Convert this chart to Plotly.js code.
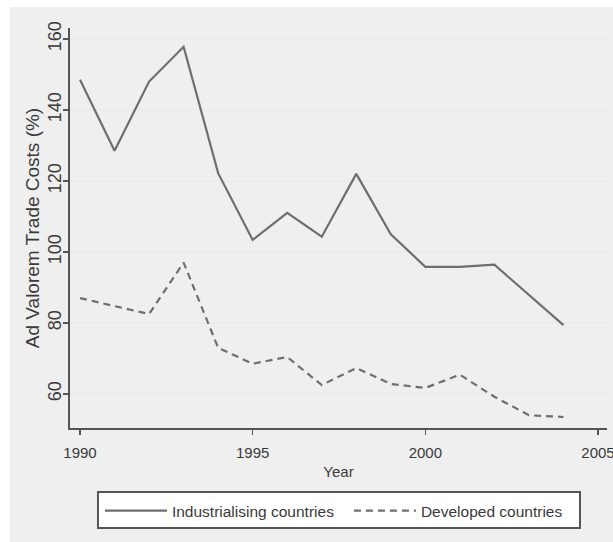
<!DOCTYPE html>
<html>
<head>
<meta charset="utf-8">
<script src="https://cdn.plot.ly/plotly-3.0.1.min.js"></script>
<style>html,body{margin:0;padding:0;background:#fff;}#chart{width:613px;height:542px;}</style>
</head>
<body>
<div id="chart"></div>
<script>
// Data
const years = [1990, 1991, 1992, 1993, 1994, 1995, 1996, 1997, 1998, 1999, 2000, 2001, 2002, 2003, 2004];
const industrialising = [148.5, 128.5, 148, 157.8, 122.2, 103.4, 111, 104.3, 122, 105, 95.8, 95.8, 96.4, 88, 79.4];
const developed = [87, 84.8, 82.5, 97, 73, 68.5, 70.4, 62.5, 67.3, 62.8, 61.7, 65.4, 59.2, 54, 53.5];
const seriesNames = ['Industrialising countries', 'Developed countries'];
const xTicks = [1990, 1995, 2000, 2005];
const yTicks = [60, 80, 100, 120, 140, 160];

const font = 'Liberation Sans, Arial, sans-serif';
const textColor = '#3a3a3a';

const traces = [
  {x: years, y: industrialising, name: seriesNames[0], type: 'scatter', mode: 'lines',
   line: {color: '#6e6e6e', width: 2.2, dash: 'solid'}},
  {x: years, y: developed, name: seriesNames[1], type: 'scatter', mode: 'lines',
   line: {color: '#6e6e6e', width: 2.2, dash: '7px,5px'}}
];

const layout = {
  width: 613, height: 542,
  margin: {l: 70, r: 6, t: 28, b: 114, pad: 0},
  paper_bgcolor: '#ffffff',
  plot_bgcolor: '#ffffff',
  font: {family: font, color: textColor},
  showlegend: true,
  xaxis: {
    range: [1989.71, 2005.26], tickvals: xTicks, ticktext: xTicks.map(String),
    showgrid: false, zeroline: false,
    showline: true, linecolor: '#555555', linewidth: 2,
    ticks: 'outside', ticklen: 5, tickwidth: 1.5, tickcolor: '#555555',
    ticklabelstandoff: 5, ticklabeloverflow: 'allow',
    tickfont: {size: 15, color: textColor, family: font},
    title: {text: 'Year', font: {size: 15, color: textColor, family: font}, standoff: 6},
    automargin: false
  },
  yaxis: {
    range: [50.4, 163.1], tickvals: yTicks, ticktext: yTicks.map(String),
    tickangle: -90,
    showgrid: true, gridcolor: '#ebebeb', gridwidth: 2,
    zeroline: false,
    showline: true, linecolor: '#555555', linewidth: 2,
    ticks: 'outside', ticklen: 5, tickwidth: 1.5, tickcolor: '#555555',
    ticklabelstandoff: -5,
    tickfont: {size: 18, color: textColor, family: font},
    title: {text: 'Ad Valorem Trade Costs (%)', font: {size: 19, color: textColor, family: font}, standoff: 0},
    automargin: false
  },
  legend: {
    orientation: 'h', x: 0.052, xanchor: 'left', y: -0.16, yanchor: 'top',
    bgcolor: 'rgba(0,0,0,0)', bordercolor: 'rgba(0,0,0,0)', borderwidth: 2,
    font: {size: 15.5, color: textColor, family: font},
    itemwidth: 62, entrywidth: 172, entrywidthmode: 'pixels',
    itemclick: false, itemdoubleclick: false
  },
  shapes: [
    {type: 'rect', xref: 'paper', yref: 'paper', layer: 'below',
     x0: -0.1117, x1: 1.02, y0: -0.29, y1: 1.0525,
     fillcolor: '#efefef', line: {width: 0}},
    {type: 'rect', xref: 'paper', yref: 'paper', layer: 'below',
     x0: 0.0521, x1: 0.9497, y0: -0.16, y1: -0.25,
     fillcolor: '#ffffff', line: {width: 2, color: '#555555'}}
  ]
};

Plotly.newPlot('chart', traces, layout, {displayModeBar: false, staticPlot: true});
</script>
</body>
</html>
